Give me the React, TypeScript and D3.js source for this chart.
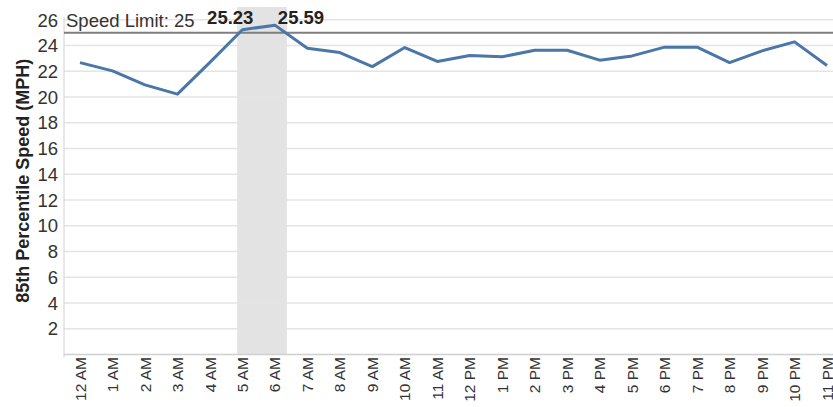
import React from "react";
import * as d3 from "d3";

const hours = [
  "12 AM", "1 AM", "2 AM", "3 AM", "4 AM", "5 AM", "6 AM", "7 AM", "8 AM", "9 AM", "10 AM", "11 AM",
  "12 PM", "1 PM", "2 PM", "3 PM", "4 PM", "5 PM", "6 PM", "7 PM", "8 PM", "9 PM", "10 PM", "11 PM",
];
const speeds = [
  22.68, 22.04, 20.95, 20.23, 22.7, 25.23, 25.59, 23.8, 23.46, 22.37, 23.85, 22.77,
  23.23, 23.13, 23.64, 23.64, 22.87, 23.2, 23.88, 23.88, 22.68, 23.59, 24.29, 22.45,
];
const yTicks = [2, 4, 6, 8, 10, 12, 14, 16, 18, 20, 22, 24, 26];
const speedLimit = 25;
const peakHours = ["5 AM", "6 AM"];

const size = { w: 833, h: 407, left: 64, right: 833, top: 7, bottom: 354.5 };

const App = () => {
  const x = d3.scaleLinear().domain([0, hours.length - 1]).range([80, 827]);
  const y = d3.scaleLinear().domain([0, 27]).range([size.bottom, size.top]);

  const line = d3
    .line<number>()
    .x((_, i) => x(i))
    .y((d) => y(d));

  const i5 = hours.indexOf(peakHours[0]);
  const i6 = hours.indexOf(peakHours[1]);

  return (
    <svg
      width={size.w}
      height={size.h}
      style={{ position: "absolute", left: 0, top: 0 }}
      fontFamily="'Liberation Sans', Arial, sans-serif"
    >
      {/* highlighted peak band */}
      <rect
        x={x(i5 - 0.16)}
        y={size.top}
        width={x(i6 + 0.37) - x(i5 - 0.16)}
        height={size.bottom - size.top}
        fill="#e3e3e3"
      />

      {/* gridlines */}
      {yTicks.map((t) => (
        <line key={t} x1={size.left} x2={size.right} y1={y(t)} y2={y(t)} stroke="#e4e4e4" strokeWidth={1.5} />
      ))}
      {yTicks.map((t) => (
        <text key={"l" + t} x={58} y={y(t)} dy="0.36em" textAnchor="end" fontSize={18.5} fill="#333">
          {t}
        </text>
      ))}

      {/* axes */}
      <line x1={size.left} x2={size.right} y1={y(0)} y2={y(0)} stroke="#d0d0d0" strokeWidth={1.5} />
      <line x1={size.left} x2={size.left} y1={size.top + 10} y2={y(0) + 3} stroke="#d0d0d0" strokeWidth={1} />

      {/* speed limit */}
      <line x1={size.left} x2={size.right} y1={y(speedLimit)} y2={y(speedLimit)} stroke="#7f7f7f" strokeWidth={2} />
      <text x={66} y={26.5} fontSize={18.5} fill="#333">
        Speed Limit: {speedLimit}
      </text>

      {/* series */}
      <path d={line(speeds) || ""} fill="none" stroke="#4a76a8" strokeWidth={3} strokeLinejoin="round" />

      <text x={x(i5) + 11} y={24} textAnchor="end" fontSize={18.5} fontWeight="bold" fill="#222">
        {speeds[i5].toFixed(2)}
      </text>
      <text x={x(i6) + 3} y={24} textAnchor="start" fontSize={18.5} fontWeight="bold" fill="#222">
        {speeds[i6].toFixed(2)}
      </text>

      {/* x labels */}
      {hours.map((h, i) => (
        <text
          key={h}
          transform={`translate(${x(i)},${357}) rotate(-90)`}
          dy="0.36em"
          textAnchor="end"
          fontSize={15.5}
          fontFamily="'Liberation Sans Narrow', 'Arial Narrow', sans-serif"
          fill="#333"
        >
          {h}
        </text>
      ))}

      {/* y title */}
      <text
        transform={`translate(${23},${(size.top + size.bottom) / 2}) rotate(-90)`}
        dy="0.36em"
        textAnchor="middle"
        fontSize={18}
        fontWeight="bold"
        fill="#222"
      >
        85th Percentile Speed (MPH)
      </text>
    </svg>
  );
};

export default App;
